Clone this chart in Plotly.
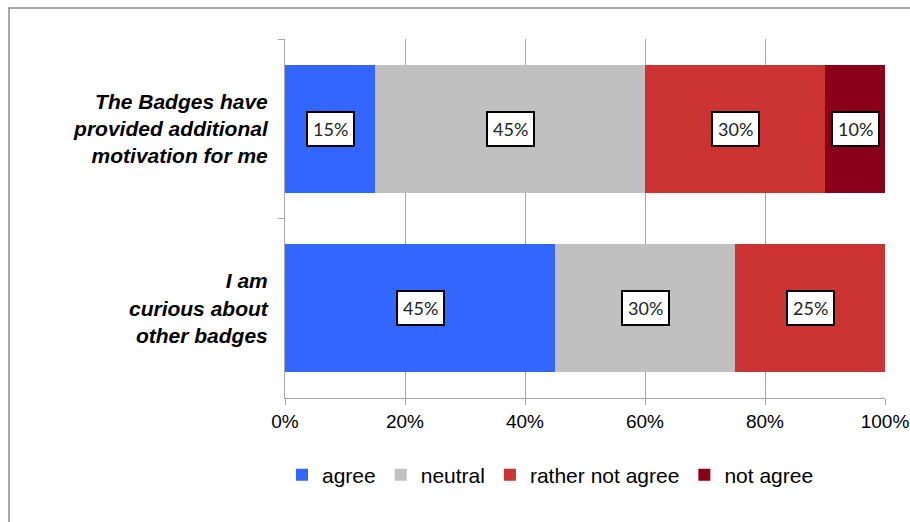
import plotly.graph_objects as go

categories = ["<i><b>The Badges have<br>provided additional<br>motivation for me</b></i>",
              "<i><b>I am<br>curious about<br>other badges</b></i>"]
series_names = ["agree", "neutral", "rather not agree", "not agree"]
series_colors = ["#3366FF", "#C0C0C0", "#CC3333", "#8B0019"]
values = {
    "agree": [15, 45],
    "neutral": [45, 30],
    "rather not agree": [30, 25],
    "not agree": [10, 0],
}
tick_vals = [0, 20, 40, 60, 80, 100]
tick_text = ["0%", "20%", "40%", "60%", "80%", "100%"]

fig = go.Figure()
for name, color in zip(series_names, series_colors):
    fig.add_trace(go.Bar(
        y=categories, x=values[name], name=name, orientation="h",
        marker=dict(color=color, line=dict(width=0)),
    ))

# data labels in boxes at segment centres
annotations = []
for ci, cat in enumerate(categories):
    cum = 0
    for name in series_names:
        v = values[name][ci]
        if v > 0:
            annotations.append(dict(
                x=cum + v / 2, y=cat, xref="x", yref="y",
                text=f"{v}%", showarrow=False,
                font=dict(family="Lato", size=18, color="#222222"),
                bgcolor="white", bordercolor="black", borderwidth=2, borderpad=5,
            ))
        cum += v

L, R, T, B = 285, 25, 39, 124
W, H = 910, 522
pw, ph = W - L - R, H - T - B

fig.update_layout(
    barmode="stack",
    width=W, height=H,
    margin=dict(l=L, r=R, t=T, b=B, autoexpand=False),
    paper_bgcolor="white", plot_bgcolor="white",
    bargap=0.287,
    font=dict(family="Liberation Sans", color="black"),
    annotations=annotations,
    showlegend=True,
    legend=dict(orientation="h", x=(282 - L) / pw, xanchor="left",
                y=(398 - 475) / ph, yanchor="middle",
                font=dict(family="Liberation Sans", size=21, color="black"),
                traceorder="normal", itemwidth=30),
    shapes=[dict(type="rect", xref="paper", yref="paper",
                 x0=(9 - L) / pw, x1=(920 - L) / pw,
                 y0=(398 - 540) / ph, y1=1 + (T - 8) / ph,
                 line=dict(color="#8C8C8C", width=1.5), fillcolor="rgba(0,0,0,0)",
                 layer="below")],
)
fig.update_xaxes(range=[0, 100], tickvals=tick_vals, ticktext=tick_text,
                 showgrid=True, gridcolor="#A6A6A6", gridwidth=1,
                 showline=True, linecolor="#A6A6A6", linewidth=1,
                 ticks="outside", ticklen=6, tickcolor="#A6A6A6",
                 tickfont=dict(family="Liberation Sans", size=19, color="black"),
                 zeroline=False, fixedrange=True, automargin=False)
fig.update_yaxes(autorange="reversed", showline=True, linecolor="#A6A6A6", linewidth=1,
                 ticks="outside", tickson="boundaries", ticklen=6, tickcolor="#A6A6A6",
                 tickfont=dict(family="Liberation Sans", size=21, color="black"),
                 showgrid=False, ticklabelstandoff=12, fixedrange=True, automargin=False)

fig.write_html("out.html")
